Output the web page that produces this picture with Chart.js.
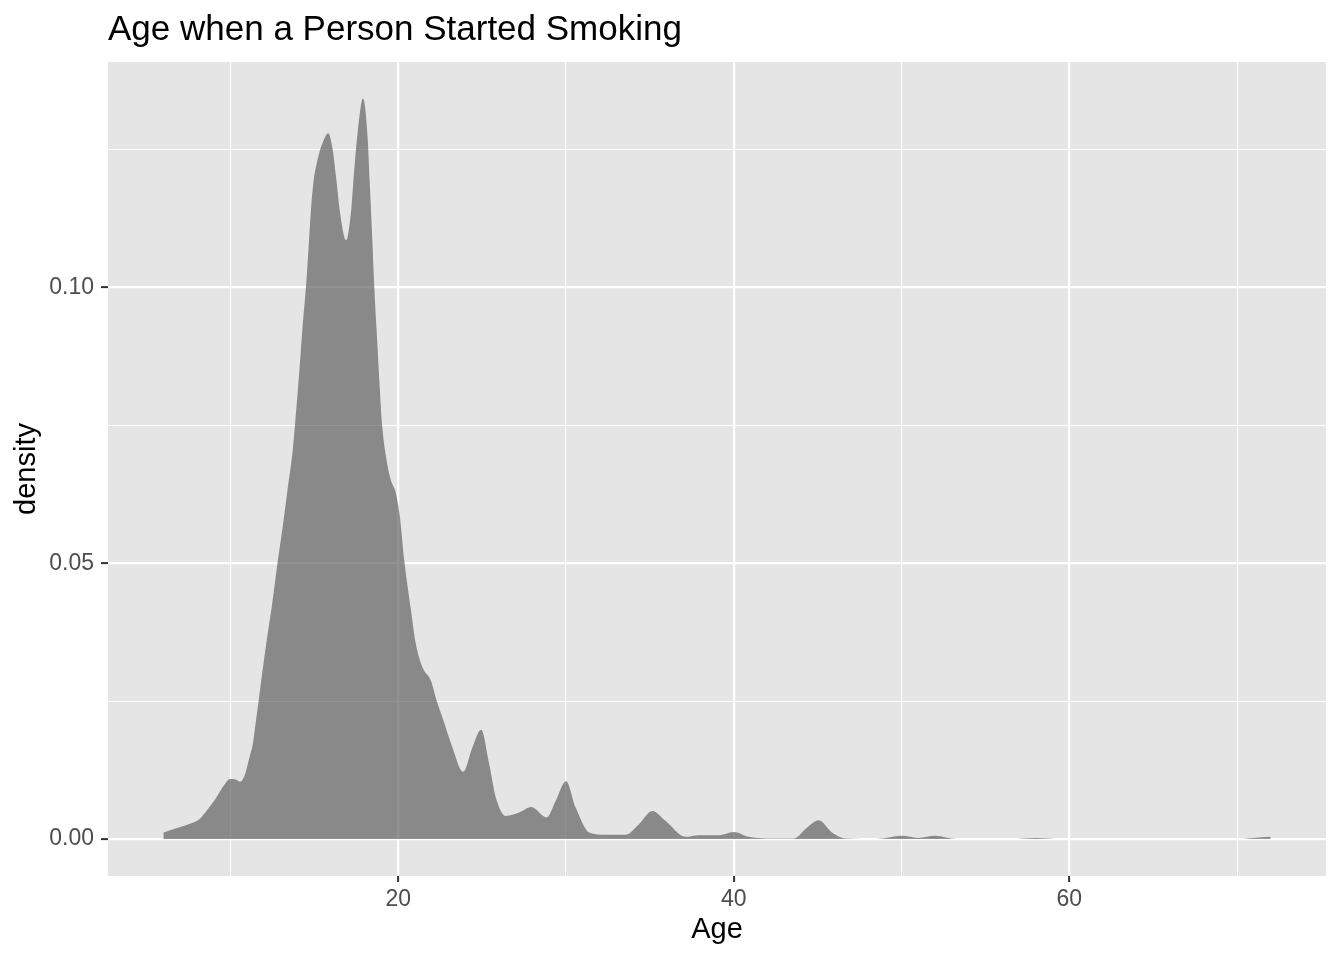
<!DOCTYPE html>
<html>
<head>
<meta charset="utf-8">
<title>Age when a Person Started Smoking</title>
<script src="https://cdn.jsdelivr.net/npm/chart.js@4"></script>
<style>
  html, body { margin: 0; padding: 0; background: #ffffff; }
  #wrap { width: 1344px; height: 960px; }
</style>
</head>
<body>
<div id="wrap"><canvas id="chart" width="1344" height="960"></canvas></div>
<script>
// density estimate
const ages = [
  6.0, 7.0, 7.5, 8.15, 8.6, 9.15, 9.6, 9.98, 10.3, 10.58, 10.8, 10.93, 11.15, 11.33, 11.5,
  11.73, 12.13, 12.5, 12.8, 13.11, 13.4, 13.71, 13.87, 14.11, 14.3, 14.5, 14.66, 14.8, 14.94,
  15.2, 15.5, 15.83, 16.09, 16.29, 16.53, 16.89, 17.18, 17.38, 17.58, 17.9, 18.17, 18.3,
  18.45, 18.57, 18.71, 18.87, 19.03, 19.27, 19.56, 19.86, 20.1, 20.36, 20.76, 21.05,
  21.45, 21.95, 22.3, 22.64, 23.23, 23.87, 24.42, 24.94, 25.42, 25.82, 26.41, 27.2, 27.93,
  28.85, 29.38, 30.0, 30.58, 31.37, 32.36, 33.55, 34.35, 35.14, 35.93, 37.12, 37.92, 39.1,
  40.0, 40.9, 41.9, 43.6, 44.27, 45.06, 45.85, 46.7, 48.5, 50.0, 51.0, 52.0, 53.3, 56.5,
  58.0, 59.5, 70.0, 71.0, 72.0
];
const density = [
  0.0012, 0.0022, 0.0027, 0.0036, 0.0052, 0.0075, 0.0097, 0.0109, 0.0108, 0.0104, 0.0112, 0.0124, 0.0150, 0.0172, 0.0210,
  0.0263, 0.0354, 0.0430, 0.0500, 0.0566, 0.0633, 0.0705, 0.0760, 0.0851, 0.0930, 0.1002, 0.1075, 0.1142, 0.1190,
  0.1233, 0.1263, 0.1280, 0.1251, 0.1202, 0.1136, 0.1086, 0.1136, 0.1215, 0.1281, 0.1343, 0.1275, 0.1190,
  0.1090, 0.1002, 0.0924, 0.0833, 0.0754, 0.0693, 0.0651, 0.0627, 0.0584, 0.0505, 0.0415, 0.0354,
  0.0311, 0.0287, 0.0250, 0.0220, 0.0166, 0.0122, 0.0166, 0.0198, 0.0136, 0.0075, 0.0042, 0.0048, 0.0058,
  0.0039, 0.0069, 0.0105, 0.0057, 0.0012, 0.0008, 0.0008, 0.0027, 0.0051, 0.0033, 0.0004, 0.0007, 0.0007,
  0.0013, 0.0004, 0.0001, 0.0001, 0.0018, 0.0034, 0.0012, 0.0001, 0.0000, 0.0006, 0.0002, 0.0006, 0.0000, 0.0000,
  0.0002, 0.0000, 0.0000, 0.0002, 0.0004
];

const xTicks = [10, 20, 30, 40, 50, 60, 70];
const xTickLabels = ['', '20', '', '40', '', '60', ''];
const yTicks = [0, 0.025, 0.05, 0.075, 0.1, 0.125];
const yTickLabels = ['0.00', '', '0.05', '', '0.10', ''];

const points = ages.map((a, i) => ({ x: a, y: density[i] }));
const FONT = "'Liberation Sans', Arial, Helvetica, sans-serif";

// grey panel behind the grid, and the plot title
const panel = {
  id: 'panel',
  beforeDraw(chart) {
    const { ctx, chartArea: a } = chart;
    ctx.save();
    ctx.fillStyle = '#E5E5E5';
    ctx.fillRect(a.left, a.top, a.right - a.left, a.bottom - a.top);
    ctx.restore();
  },
  afterDraw(chart) {
    const { ctx, chartArea: a } = chart;
    ctx.save();
    ctx.fillStyle = '#000000';
    ctx.font = '35px ' + FONT;
    ctx.textBaseline = 'alphabetic';
    ctx.textAlign = 'left';
    ctx.fillText('Age when a Person Started Smoking', a.left, 40);
    ctx.restore();
  }
};

const isMajor = (labels) => (c) => c.index !== undefined && labels[c.index] !== '';

new Chart(document.getElementById('chart'), {
  type: 'line',
  data: {
    datasets: [{
      data: points,
      fill: 'origin',
      backgroundColor: 'rgba(90,90,90,0.66)',
      borderWidth: 0,
      borderColor: 'rgba(0,0,0,0)',
      pointRadius: 0,
      cubicInterpolationMode: 'monotone'
    }]
  },
  options: {
    responsive: false,
    animation: false,
    layout: { padding: { top: 62, right: 18, bottom: 0, left: 0 } },
    plugins: {
      legend: { display: false },
      tooltip: { enabled: false },
      title: { display: false }
    },
    scales: {
      x: {
        type: 'linear',
        min: 2.7,
        max: 75.3,
        afterBuildTicks: (s) => { s.ticks = xTicks.map(v => ({ value: v })); },
        afterFit: (s) => { s.height = 84; },
        border: { display: false },
        grid: {
          color: '#ffffff',
          lineWidth: (c) => isMajor(xTickLabels)(c) ? 2.2 : 1.1,
          tickColor: (c) => isMajor(xTickLabels)(c) ? '#333333' : 'rgba(0,0,0,0)',
          tickWidth: 2,
          tickLength: 6
        },
        ticks: {
          autoSkip: false,
          maxRotation: 0,
          padding: 4,
          color: '#4D4D4D',
          font: { family: FONT, size: 23 },
          callback: (v, i) => xTickLabels[i]
        },
        title: {
          display: true,
          text: 'Age',
          color: '#000000',
          font: { family: FONT, size: 29 },
          padding: { top: 0, bottom: 13 }
        }
      },
      y: {
        type: 'linear',
        min: -0.0067,
        max: 0.1409,
        afterBuildTicks: (s) => { s.ticks = yTicks.map(v => ({ value: v })); },
        afterFit: (s) => { s.width = 108; },
        border: { display: false },
        grid: {
          color: '#ffffff',
          lineWidth: (c) => isMajor(yTickLabels)(c) ? 2.2 : 1.1,
          tickColor: (c) => isMajor(yTickLabels)(c) ? '#333333' : 'rgba(0,0,0,0)',
          tickWidth: 2,
          tickLength: 7
        },
        ticks: {
          autoSkip: false,
          padding: 7,
          color: '#4D4D4D',
          font: { family: FONT, size: 23 },
          callback: (v, i) => yTickLabels[i]
        },
        title: {
          display: true,
          text: 'density',
          color: '#000000',
          font: { family: FONT, size: 29 },
          padding: { top: 10, bottom: 0 }
        }
      }
    }
  },
  plugins: [panel]
});
</script>
</body>
</html>
